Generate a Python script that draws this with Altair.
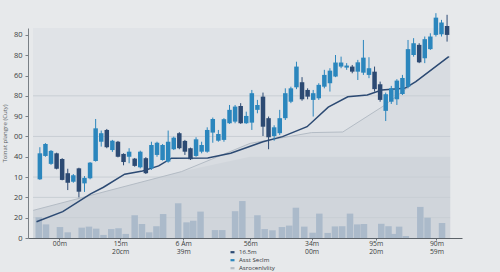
import json
import altair as alt
import pandas as pd

# ---------------- data ----------------
candle_open = [28.9, 40.4, 36.5, 41.7, 38.9, 31.9, 27.7, 34.3, 26.9, 29.4,
               37.9, 47.4, 53.2, 43.3, 47.4, 41.4, 40.0, 39.1, 34.8, 39.3,
               34.3, 40.9, 38.4, 37.6, 43.7, 51.6, 47.8, 44.2, 40.4, 42.5,
               42.5, 51.9, 47.9, 48.3, 56.5, 57.3, 65.0, 56.5, 56.8, 63.1,
               69.6, 59.0, 50.2, 51.6, 59.0, 67.1, 74.2, 76.7, 72.9, 68.0,
               68.8, 74.5, 76.2, 79.5, 84.4, 83.9, 84.4, 81.9, 81.4, 80.3,
               81.9, 75.7, 62.6, 67.1, 68.3, 70.9, 74.5, 90.1, 95.1, 88.5,
               93.0, 100.0, 100.3, 104.4]
candle_close = [41.7, 46.3, 42.9, 34.1, 28.6, 27.2, 30.9, 22.8, 29.6, 37.1,
                54.0, 51.6, 44.7, 47.9, 40.0, 37.4, 42.5, 35.5, 42.5, 31.9,
                45.8, 46.9, 45.8, 47.4, 49.4, 44.2, 42.5, 38.8, 48.6, 45.8,
                53.2, 58.6, 51.2, 58.5, 63.1, 64.7, 56.5, 60.1, 71.3, 65.5,
                54.8, 49.6, 54.5, 59.0, 71.3, 73.7, 84.4, 68.3, 69.6, 71.3,
                75.4, 80.3, 82.4, 86.4, 86.4, 84.9, 81.9, 86.5, 88.8, 83.6,
                73.3, 68.0, 70.8, 73.7, 77.5, 78.8, 93.0, 95.9, 86.5, 97.9,
                99.2, 108.5, 106.1, 100.0]
candle_high = [44.7, 46.7, 43.3, 42.0, 39.3, 34.1, 31.5, 34.6, 30.5, 37.4,
               58.6, 52.9, 53.7, 48.3, 47.8, 41.7, 44.2, 39.4, 43.0, 39.8,
               47.4, 47.4, 46.3, 52.9, 49.9, 52.1, 48.3, 44.5, 49.6, 47.4,
               54.5, 59.3, 53.2, 59.0, 65.5, 65.5, 66.4, 62.2, 72.9, 68.0,
               71.6, 59.8, 55.5, 63.1, 73.7, 74.5, 86.8, 79.2, 73.7, 72.9,
               76.2, 82.8, 83.6, 90.1, 89.3, 86.1, 85.2, 87.7, 97.5, 89.0,
               84.4, 77.0, 71.6, 74.9, 78.2, 80.3, 97.5, 98.4, 95.9, 99.2,
               100.8, 110.7, 107.4, 109.9]
candle_low = [28.6, 40.0, 36.0, 33.8, 28.4, 23.6, 27.2, 20.0, 22.7, 28.9,
              37.6, 45.0, 44.2, 42.4, 39.7, 35.8, 36.8, 35.1, 34.3, 31.5,
              33.5, 40.0, 38.1, 37.1, 43.3, 43.7, 40.9, 38.4, 40.0, 41.7,
              42.0, 46.9, 47.4, 47.4, 56.2, 56.5, 56.2, 56.2, 53.2, 61.4,
              50.2, 43.7, 47.9, 50.7, 58.1, 66.4, 73.3, 67.6, 68.3, 59.8,
              68.0, 73.7, 72.1, 79.2, 83.6, 82.8, 81.1, 77.8, 80.3, 78.7,
              72.1, 67.1, 57.6, 66.0, 65.5, 70.4, 73.7, 89.3, 86.1, 86.1,
              92.6, 99.2, 99.2, 96.7]

ma_t = [-0.6, 4.1, 9.1, 11.4, 15.2, 18.4, 21.3, 23.6, 30.1, 34.2,
        40.0, 43.5, 47.9, 51.7, 55.2, 58.7, 61.3, 65.4, 67.4, 73.3]
ma_v = [8.0, 13.0, 21.7, 25.0, 31.4, 33.0, 35.5, 39.3, 39.4, 41.7,
        47.4, 49.9, 54.8, 64.4, 69.5, 70.4, 72.9, 73.7, 77.0, 89.3]

grey_t = [-1.2, 25.4, 37.7, 48.7, 54.3, 61.6, 73.3, 73.55]
grey_v = [13.6, 32.7, 46.6, 51.9, 52.2, 65.0, 89.2, 89.2]

vol_t = [-0.2, 1.1, 3.6, 5.0, 7.5, 8.8, 10.1, 11.4, 12.8, 14.1,
         15.4, 17.0, 18.3, 19.6, 20.9, 22.1, 24.8, 26.3, 27.5, 28.8,
         31.4, 32.7, 35.0, 36.3, 39.0, 40.3, 41.7, 43.4, 44.7, 45.9,
         47.4, 48.9, 50.1, 51.6, 52.9, 54.2, 55.6, 56.9, 58.1, 61.2,
         62.5, 63.5, 64.4, 65.6, 68.2, 69.5, 72.1]
vol_v = [10.2, 6.7, 5.4, 2.8, 5.1, 5.6, 4.6, 1.5, 4.4, 4.8,
         2.0, 11.2, 6.9, 2.8, 5.8, 11.8, 17.1, 7.7, 8.5, 13.0,
         3.9, 3.9, 13.2, 18.2, 11.2, 4.4, 3.8, 5.4, 6.1, 14.9,
         5.6, 2.6, 12.0, 2.5, 5.7, 5.8, 12.0, 6.7, 6.9, 7.0,
         5.8, 2.0, 5.6, 1.0, 15.3, 10.0, 7.4]

y_ticks = [0, 10, 20, 30, 40, 50, 60, 70, 80, 90, 100]
y_tick_labels = ["0", "20", "20", "10", "40", "00", "90", "80", "60", "80", "80"]
x_tick_pos = [3.5, 14.4, 25.7, 37.7, 48.7, 60.2, 71.1]
x_tick_line1 = ["00m", "15m", "6 Am", "56m", "34m", "95m", "90m"]
x_tick_line2 = ["", "20cm", "39m", "", "00m", "20m", "59m"]
grid_values = [10, 20, 30, 50, 70]
legend_names = ["16.5m", "Asst Seclm", "Asrocenlvlity"]
legend_colors = ["#2c4a73", "#2b86bd", "#b4bcc5"]
y_title = "Toinat plangre  (Cuty)"

x_domain = [-1.23, 74.78]
y_domain = [0, 103.4]
shade_t = [-1.23, 73.55]
band_top = 40

FONT = "Open Sans"

# ---------------- frames ----------------
candles = pd.DataFrame({
    "t": list(range(len(candle_open))),
    "open": candle_open, "close": candle_close,
    "high": candle_high, "low": candle_low,
})
candles["dir"] = [legend_names[1] if c >= o else legend_names[0]
                  for o, c in zip(candle_open, candle_close)]

ma = pd.DataFrame({"t": ma_t, "v": ma_v, "s": legend_names[0]})
grey = pd.DataFrame({"t": grey_t, "v": grey_v, "s": legend_names[2]})
grey["vb"] = [min(v, band_top) for v in grey_v]
vol = pd.DataFrame({"t": vol_t, "v": vol_v})
bg = pd.DataFrame({"t0": [shade_t[0]], "t1": [shade_t[1]],
                   "v0": [y_domain[0]], "v1": [y_domain[1]]})
grid = pd.DataFrame({"v": grid_values, "t0": shade_t[0], "t1": shade_t[1]})


def label_expr(vals, labels):
    expr = "''"
    for v, lab in reversed(list(zip(vals, labels))):
        expr = f"abs(datum.value - {v}) < 0.01 ? {json.dumps(lab)} : ({expr})"
    return expr


x_labels = [[a, b] if b else a for a, b in zip(x_tick_line1, x_tick_line2)]

xs = alt.Scale(domain=x_domain, nice=False, zero=False)
ys = alt.Scale(domain=y_domain, nice=False, zero=False)
cs = alt.Scale(domain=legend_names, range=legend_colors)

x_axis = alt.Axis(values=x_tick_pos, labelExpr=label_expr(x_tick_pos, x_labels),
                  title=None, grid=False, domainColor="#5d6369", domainWidth=1,
                  tickColor="#6a7076", tickSize=2, labelFontSize=6.8,
                  labelColor="#3a3d40", labelPadding=0, labelLineHeight=8.5,
                  labelOverlap=False, labelFlush=False, labelFont=FONT)
y_axis = alt.Axis(values=y_ticks, labelExpr=label_expr(y_ticks, y_tick_labels),
                  title=y_title, grid=False, domainColor="#7a8086", domainWidth=1,
                  tickColor="#7a8086", tickSize=3, labelFontSize=7.5,
                  labelColor="#3a3d40", labelPadding=3, labelFont=FONT,
                  titleFont=FONT, titleFontSize=6, titleFontWeight="normal",
                  titleColor="#5a5f64", titlePadding=6, labelOverlap=False)
legend = alt.Legend(
    orient="none", legendX=201, legendY=220.7, title=None,
    symbolType="stroke", symbolStrokeWidth=2.2, symbolSize=16,
    labelFontSize=6.1, labelColor="#33373b", labelFont=FONT,
    rowPadding=-5, padding=0, labelOffset=3, direction="vertical",
    values=legend_names)


def X(f):
    return alt.X(f, type="quantitative", scale=xs, axis=x_axis)


def Y(f):
    return alt.Y(f, type="quantitative", scale=ys, axis=y_axis)


def C(f):
    return alt.Color(f, type="nominal", scale=cs, legend=legend)


base_bg = alt.Chart(bg).mark_rect(color="#e0e3e7").encode(
    x=X("t0"), x2="t1", y=Y("v0"), y2="v1")

area_light = alt.Chart(grey).mark_area(color="#d8dce1").encode(
    x=X("t"), y=Y("v"), y2=alt.Y2(datum=0))
area_band = alt.Chart(grey).mark_area(color="#d0d5db").encode(
    x=X("t"), y=Y("vb"), y2=alt.Y2(datum=0))

grid_rules = alt.Chart(grid).mark_rule(color="#c8ced4", strokeWidth=1).encode(
    x=X("t0"), x2="t1", y=Y("v"))

vol_bars = alt.Chart(vol).mark_bar(size=6.5, color="#a9b8c9", opacity=0.95).encode(
    x=X("t"), y=Y("v"), y2=alt.Y2(datum=0))

grey_line = alt.Chart(grey).mark_line(strokeWidth=1).encode(
    x=X("t"), y=Y("v"), color=C("s"))

ma_line = alt.Chart(ma).mark_line(strokeWidth=1.5).encode(
    x=X("t"), y=Y("v"), color=C("s"))

wicks = alt.Chart(candles).mark_rule(strokeWidth=1).encode(
    x=X("t"), y=Y("low"), y2="high", color=C("dir"))

bodies = alt.Chart(candles).mark_bar(size=4.5).encode(
    x=X("t"), y=Y("open"), y2="close", color=C("dir"))

chart = alt.layer(
    base_bg, area_light, area_band, grid_rules, vol_bars,
    grey_line, ma_line, wicks, bodies
).properties(
    width=434, height=210,
    autosize=alt.AutoSizeParams(type="none"),
    padding={"left": 28, "top": 28, "right": 38, "bottom": 34},
    background="#e7e9eb",
).configure_view(stroke=None)

chart.save("out.html", embed_options={"renderer": "svg", "actions": False})
